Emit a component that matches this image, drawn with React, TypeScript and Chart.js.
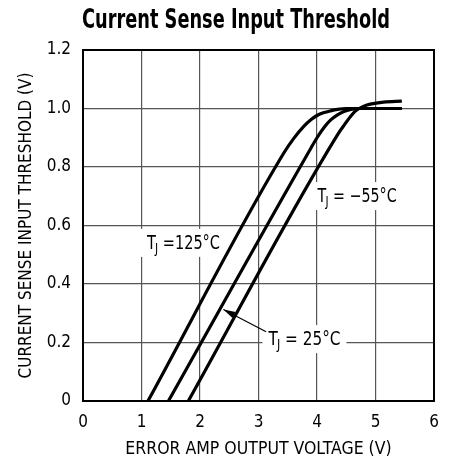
import { useEffect, useRef } from "react";
import { Chart, registerables } from "chart.js";
Chart.register(...registerables);

const FONT = "'DejaVu Sans Condensed', 'Liberation Sans', sans-serif";

const titleText = "Current Sense Input Threshold";
const xAxisTitle = "ERROR AMP OUTPUT VOLTAGE (V)";
const yAxisTitle = "CURRENT SENSE INPUT THRESHOLD (V)";

const xTickValues = [0, 1, 2, 3, 4, 5, 6];
const xTickLabels = ["0", "1", "2", "3", "4", "5", "6"];
const yTickValues = [0, 0.2, 0.4, 0.6, 0.8, 1.0, 1.2];
const yTickLabels = ["0", "0.2", "0.4", "0.6", "0.8", "1.0", "1.2"];

// T_J = 125°C
const t125X = [1.11, 3.43, 3.6, 3.77, 3.9, 4.0, 4.12, 4.23, 4.35, 4.5, 5.45];
const t125Y = [0, 0.847, 0.897, 0.938, 0.962, 0.976, 0.986, 0.992, 0.997, 1.0, 1.0];
// T_J = 25°C
const t25X = [1.46, 3.9, 4.0, 4.12, 4.23, 4.35, 4.45, 4.58, 4.72, 5.45];
const t25Y = [0, 0.866, 0.9, 0.935, 0.96, 0.978, 0.989, 0.997, 1.0, 1.0];
// T_J = -55°C
const tm55X = [1.8, 4.35, 4.47, 4.57, 4.65, 4.72, 4.8, 4.91, 5.14, 5.45];
const tm55Y = [0, 0.91, 0.945, 0.972, 0.99, 1.0, 1.008, 1.015, 1.022, 1.025];

// annotations: left edge / vertical centre in data coords, rendered width in px
const labelM55 = { x: 4.01, y: 0.704, w: 79, rest: " = \u221255\u00B0C" };
const label125 = { x: 1.094, y: 0.544, w: 73, rest: " =125\u00B0C" };
const label25 = { x: 3.17, y: 0.215, w: 72, rest: " = 25\u00B0C" };
const arrowTail = { x: 3.13, y: 0.237 };
const arrowTip = { x: 2.4, y: 0.313 };

function toPts(xs: number[], ys: number[]) {
  return xs.map((x, i) => ({ x, y: ys[i] }));
}

function drawTjLabel(ctx: CanvasRenderingContext2D, x: number, y: number, rest: string, target: number) {
  ctx.save();
  const big = `19px ${FONT}`;
  const small = `14px ${FONT}`;
  ctx.font = big;
  const wT = ctx.measureText("T").width;
  const wR = ctx.measureText(rest).width;
  ctx.font = small;
  const wJ = ctx.measureText("J").width;
  const total = wT + wJ - 1 + wR;
  const sx = target / total;
  ctx.fillStyle = "#fff";
  ctx.fillRect(x - 6, y - 13, target + 12, 28);
  ctx.translate(x, y);
  ctx.scale(sx, 1);
  ctx.fillStyle = "#000";
  ctx.textAlign = "left";
  ctx.textBaseline = "alphabetic";
  ctx.font = big;
  ctx.fillText("T", 0, 7);
  ctx.font = small;
  ctx.fillText("J", wT - 1, 11);
  ctx.font = big;
  ctx.fillText(rest, wT + wJ - 1, 7);
  ctx.restore();
}

const annotPlugin = {
  id: "annot",
  beforeDatasetsDraw(chart: any) {
    const ctx: CanvasRenderingContext2D = chart.ctx;
    const xs = chart.scales.x;
    const ys = chart.scales.y;
    const px = (v: number) => xs.getPixelForValue(v);
    const py = (v: number) => ys.getPixelForValue(v);

    // frame
    const a = chart.chartArea;
    ctx.save();
    ctx.strokeStyle = "#000";
    ctx.lineWidth = 2;
    ctx.strokeRect(a.left, a.top, a.right - a.left, a.bottom - a.top);
    ctx.restore();

    for (const l of [labelM55, label125, label25]) {
      drawTjLabel(ctx, px(l.x), py(l.y), l.rest, l.w);
    }
  },
  afterDatasetsDraw(chart: any) {
    const ctx: CanvasRenderingContext2D = chart.ctx;
    const xs = chart.scales.x;
    const ys = chart.scales.y;
    const px = (v: number) => xs.getPixelForValue(v);
    const py = (v: number) => ys.getPixelForValue(v);

    // arrow
    const x1 = px(arrowTail.x), y1 = py(arrowTail.y);
    const x2 = px(arrowTip.x), y2 = py(arrowTip.y);
    ctx.save();
    ctx.strokeStyle = "#000";
    ctx.fillStyle = "#000";
    ctx.lineWidth = 1.2;
    ctx.beginPath();
    ctx.moveTo(x1, y1);
    ctx.lineTo(x2, y2);
    ctx.stroke();
    const ang = Math.atan2(y2 - y1, x2 - x1);
    const L = 12, W = 3.5;
    ctx.beginPath();
    ctx.moveTo(x2, y2);
    ctx.lineTo(x2 - L * Math.cos(ang) + W * Math.sin(ang), y2 - L * Math.sin(ang) - W * Math.cos(ang));
    ctx.lineTo(x2 - L * Math.cos(ang) - W * Math.sin(ang), y2 - L * Math.sin(ang) + W * Math.cos(ang));
    ctx.closePath();
    ctx.fill();
    ctx.restore();

    // title (condensed by horizontal scaling)
    ctx.save();
    ctx.font = `bold 26px ${FONT}`;
    const tw = ctx.measureText(titleText).width;
    const targetW = 308;
    ctx.translate(82, 28.3);
    ctx.scale(targetW / tw, 1);
    ctx.fillStyle = "#000";
    ctx.textAlign = "left";
    ctx.textBaseline = "alphabetic";
    ctx.fillText(titleText, 0, 0);
    ctx.restore();
  },
};

export default function App() {
  const ref = useRef<HTMLCanvasElement | null>(null);
  useEffect(() => {
    if (!ref.current) return;
    const lineStyle = {
      borderColor: "#000",
      borderWidth: 3.2,
      pointRadius: 0,
      showLine: true,
      fill: false,
      cubicInterpolationMode: "monotone" as const,
    };
    const chart = new Chart(ref.current, {
      type: "scatter",
      data: {
        datasets: [
          { label: "125", data: toPts(t125X, t125Y), ...lineStyle },
          { label: "25", data: toPts(t25X, t25Y), ...lineStyle },
          { label: "-55", data: toPts(tm55X, tm55Y), ...lineStyle },
        ],
      },
      options: {
        animation: false,
        responsive: false,
        devicePixelRatio: 1,
        layout: { padding: { left: 0, right: 16, top: 50, bottom: 0 } },
        plugins: { legend: { display: false }, tooltip: { enabled: false }, title: { display: false } },
        scales: {
          x: {
            type: "linear",
            min: 0,
            max: 6,
            afterFit: (s: any) => { s.height = 62; },
            afterBuildTicks: (s: any) => { s.ticks = xTickValues.map((v) => ({ value: v })); },
            ticks: {
              padding: 11,
              color: "#000",
              font: { family: FONT, size: 17 },
              callback: (v: any) => {
                const i = xTickValues.findIndex((t) => Math.abs(t - Number(v)) < 1e-6);
                return i >= 0 ? xTickLabels[i] : "";
              },
            },
            grid: { color: "#555", lineWidth: 1.2, drawTicks: false },
            border: { color: "#000", width: 2 },
            title: {
              display: true,
              text: xAxisTitle,
              color: "#000",
              font: { family: FONT, size: 17.5 },
              padding: { top: 4, bottom: 3 },
            },
          },
          y: {
            type: "linear",
            min: 0,
            max: 1.2,
            afterFit: (s: any) => { s.width = 83; },
            afterBuildTicks: (s: any) => { s.ticks = yTickValues.map((v) => ({ value: v })); },
            ticks: {
              padding: 12,
              color: "#000",
              font: { family: FONT, size: 17 },
              callback: (v: any) => {
                const i = yTickValues.findIndex((t) => Math.abs(t - Number(v)) < 1e-6);
                return i >= 0 ? yTickLabels[i] : "";
              },
            },
            grid: { color: "#555", lineWidth: 1.2, drawTicks: false },
            border: { color: "#000", width: 2 },
            title: {
              display: true,
              text: yAxisTitle,
              color: "#000",
              font: { family: FONT, size: 17 },
              padding: { top: 16, bottom: 4 },
            },
          },
        },
      },
      plugins: [annotPlugin],
    });
    return () => chart.destroy();
  }, []);
  return (
    <div style={{ position: "fixed", left: 0, top: 0, width: 450, height: 463, background: "#fff" }}>
      <canvas ref={ref} width={450} height={463} />
    </div>
  );
}
